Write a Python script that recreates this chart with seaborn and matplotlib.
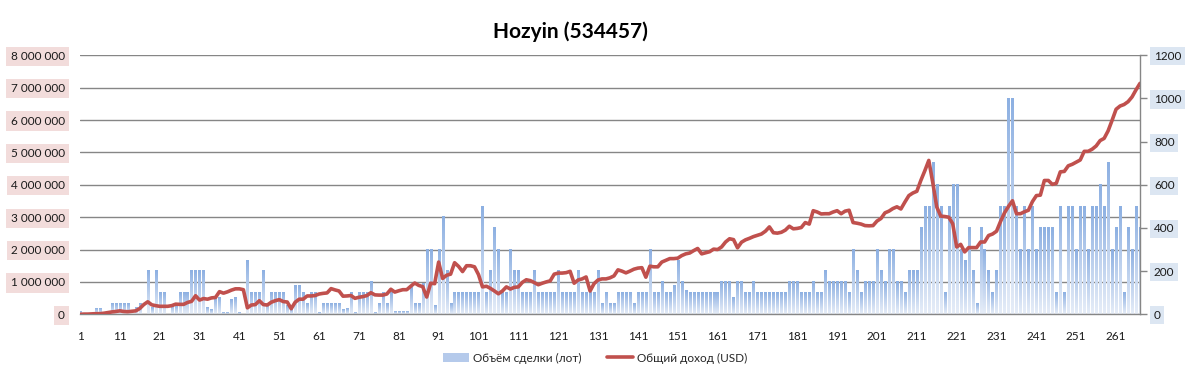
import numpy as np
import pandas as pd
import matplotlib
matplotlib.use("Agg")
import matplotlib.pyplot as plt
import seaborn as sns
from matplotlib.colors import LinearSegmentedColormap
from matplotlib.patches import Patch
from matplotlib.lines import Line2D

# ---------------- data ----------------
title = "Hozyin (534457)"
bar_label = "Объём сделки (лот)"
line_label = "Общий доход (USD)"

# trade volume, millions (left axis)
volume_mln = [
    0.067, 0, 0, 0, 0.167, 0.167, 0, 0, 0.333, 0.333,
    0.333, 0.333, 0.333, 0, 0.2, 0.333, 0, 1.333, 0.2, 1.333,
    0.667, 0.667, 0, 0.267, 0.267, 0.667, 0.667, 0.667, 1.333, 1.333,
    1.333, 1.333, 0.2, 0.133, 0.5, 0.5, 0.05, 0.05, 0.433, 0.5,
    0.05, 0, 1.667, 0.667, 0.667, 0.667, 1.333, 0.333, 0.667, 0.667,
    0.667, 0.667, 0.25, 0.133, 0.867, 0.867, 0.667, 0.333, 0.667, 0.667,
    0.05, 0.333, 0.333, 0.333, 0.333, 0.333, 0.133, 0.167, 0.667, 0.05,
    0.667, 0.667, 0.667, 1.0, 0.05, 0.333, 0.667, 0.333, 0.667, 0.067,
    0.067, 0.067, 0.067, 0.833, 0.333, 0.333, 0.933, 2.0, 2.0, 0.267,
    2.0, 3.0, 1.333, 0.333, 0.667, 0.667, 0.667, 0.667, 0.667, 0.667,
    0.667, 3.333, 0.667, 1.333, 2.667, 2.0, 0.667, 0.667, 2.0, 1.333,
    1.333, 0.667, 0.667, 0.667, 1.333, 0.667, 0.667, 0.667, 0.667, 0.667,
    1.333, 0.667, 0.667, 0.667, 0.667, 1.333, 0.667, 0.667, 0.667, 0.667,
    1.333, 0.333, 0.667, 0.333, 0.333, 0.667, 0.667, 0.667, 0.667, 0.333,
    0.667, 0.667, 0.667, 2.0, 0.667, 0.667, 1.0, 0.667, 0.667, 0.867,
    1.667, 1.0, 0.733, 0.667, 0.667, 0.667, 0.667, 0.667, 0.667, 0.667,
    0.667, 1.0, 1.0, 1.0, 0.5, 1.0, 1.0, 0.667, 0.667, 1.0,
    0.667, 0.667, 0.667, 0.667, 0.667, 0.667, 0.667, 0.667, 1.0, 1.0,
    1.0, 0.667, 0.667, 0.667, 1.0, 0.667, 0.667, 1.333, 1.0, 1.0,
    1.0, 1.0, 1.0, 0.667, 2.0, 1.333, 0.667, 1.0, 1.0, 1.0,
    2.0, 1.333, 1.0, 2.0, 2.0, 1.0, 1.0, 0.667, 1.333, 1.333,
    1.333, 2.667, 3.333, 3.333, 4.667, 4.0, 3.333, 0.667, 3.333, 4.0,
    4.0, 2.0, 1.667, 2.667, 1.333, 0.333, 2.667, 2.0, 1.333, 0.667,
    1.333, 3.333, 3.333, 6.667, 6.667, 3.333, 2.0, 3.333, 2.0, 3.333,
    2.0, 2.667, 2.667, 2.667, 2.667, 0.667, 3.333, 0.667, 3.333, 3.333,
    2.0, 3.333, 3.333, 2.0, 3.333, 3.333, 4.0, 3.333, 4.667, 2.0,
    2.667, 3.333, 0.667, 2.667, 2.0, 3.333, 2.667,
]

# cumulative income, USD (right axis)
income_usd = [
    0, 1, 1, 2, 3, 3, 5, 8, 11, 13,
    16, 13, 12, 14, 16, 27, 45, 58, 44, 40,
    37, 37, 37, 40, 47, 46, 46, 55, 60, 86,
    66, 73, 70, 76, 78, 105, 98, 104, 112, 118,
    118, 114, 30, 43, 45, 63, 45, 43, 56, 63,
    68, 59, 57, 26, 56, 70, 70, 85, 85, 87,
    94, 97, 99, 119, 113, 108, 84, 85, 87, 74,
    79, 82, 87, 100, 90, 89, 89, 94, 116, 103,
    109, 114, 114, 130, 145, 134, 128, 80, 144, 142,
    242, 166, 181, 186, 239, 222, 198, 225, 225, 220,
    184, 127, 130, 120, 108, 95, 108, 127, 117, 125,
    127, 148, 160, 156, 147, 137, 144, 150, 155, 186,
    191, 191, 193, 199, 144, 159, 164, 173, 108, 142,
    159, 164, 164, 169, 178, 206, 200, 192, 200, 209,
    214, 216, 172, 223, 220, 220, 242, 250, 258, 258,
    260, 272, 280, 284, 295, 305, 280, 285, 290, 302,
    300, 312, 335, 350, 346, 308, 334, 345, 352, 360,
    366, 372, 385, 405, 378, 376, 380, 390, 408, 396,
    398, 402, 425, 418, 480, 474, 465, 466, 466, 474,
    480, 466, 478, 482, 425, 422, 418, 411, 410, 411,
    432, 444, 470, 478, 490, 498, 488, 520, 550, 562,
    570, 620, 665, 713, 610, 497, 455, 453, 450, 420,
    312, 324, 289, 309, 309, 309, 335, 335, 365, 372,
    385, 430, 470, 500, 526, 466, 466, 475, 482, 522,
    550, 552, 620, 620, 602, 607, 660, 662, 688, 695,
    705, 715, 755, 755, 765, 780, 805, 815, 850, 899,
    950, 965, 972, 985, 1007, 1040, 1070,
]

trades = list(range(1, len(volume_mln) + 1))
left_ticks = [0, 1000000, 2000000, 3000000, 4000000, 5000000, 6000000, 7000000, 8000000]
right_ticks = [0, 200, 400, 600, 800, 1000, 1200]
x_ticks = list(range(1, len(trades) + 1, 10))

df = pd.DataFrame({
    "trade": trades,
    "volume": np.array(volume_mln) * 1e6,
    "income": income_usd,
})

# ---------------- style ----------------
sns.set_theme(style="white")
plt.rcParams["font.family"] = ["Lato", "DejaVu Sans"]
GRID = "#868686"
RED = "#C0504D"

W, H = 1189, 380
fig = plt.figure(figsize=(W / 100, H / 100), dpi=100)
fig.patch.set_facecolor("white")
ax = fig.add_axes([80 / W, 1 - 314.3 / H, 1060 / W, 259 / H])

sns.barplot(data=df, x="trade", y="volume", native_scale=True, width=0.55,
            color="#A9C2E8", ax=ax, zorder=2, errorbar=None)

# vertical gradient inside every bar
cmap = LinearSegmentedColormap.from_list("bargrad", ["#E6EDF8", "#8DB0E2"])
grad = np.linspace(0, 1, 64).reshape(-1, 1)
for p in list(ax.patches):
    h = p.get_height()
    if h <= 0:
        p.set_visible(False)
        continue
    x0, w = p.get_x(), p.get_width()
    ax.imshow(grad, extent=(x0, x0 + w, 0, h), origin="lower", aspect="auto",
              cmap=cmap, zorder=2, interpolation="bilinear")
    p.set_visible(False)

ax.set_xlim(trades[0], trades[-1])
ax.set_ylim(0, 8000000)
ax.set_yticks(left_ticks)
ylabels = ax.set_yticklabels([f"{v:,}".replace(",", " ") for v in left_ticks])
for t in ylabels:
    t.set_bbox(dict(boxstyle="square,pad=0.35", fc="#F2DCDB", ec="none"))
ax.set_xticks(x_ticks)
ax.set_xticklabels([str(v) for v in x_ticks])
ax.tick_params(axis="y", length=0, pad=11, labelsize=8.5, labelcolor="#1a1a1a")
ax.tick_params(axis="x", length=0, pad=12, labelsize=8.5, labelcolor="#1a1a1a")
ax.grid(axis="y", color=GRID, linewidth=1.0)
ax.grid(axis="x", visible=False)
ax.set_axisbelow(True)
for s in ["left", "top", "right"]:
    ax.spines[s].set_visible(False)
ax.spines["bottom"].set_color(GRID)
ax.spines["bottom"].set_linewidth(1.0)
ax.set_xlabel("")
ax.set_ylabel("")

ax2 = ax.twinx()
sns.lineplot(data=df, x="trade", y="income", ax=ax2, color=RED, linewidth=2.6,
             solid_joinstyle="round", solid_capstyle="round")
ax2.set_xlim(trades[0], trades[-1])
ax2.set_ylim(0, 1200)
ax2.set_yticks(right_ticks)
rlabels = ax2.set_yticklabels([str(v) for v in right_ticks])
for t in rlabels:
    t.set_bbox(dict(boxstyle="square,pad=0.3", fc="#DCE6F2", ec="none"))
ax2.tick_params(axis="y", length=5, width=1, color=GRID, direction="out",
                pad=5, labelsize=8.5, labelcolor="#1a1a1a")
ax2.grid(False)
for s in ["left", "top", "bottom"]:
    ax2.spines[s].set_visible(False)
ax2.spines["right"].set_color(GRID)
ax2.spines["right"].set_linewidth(1.0)
ax2.set_ylabel("")
ax2.set_xlabel("")

fig.text(570 / W, 1 - 32 / H, title, ha="center", va="center",
         fontsize=15, fontweight="bold", color="black")

handles = [Patch(facecolor="#B5CAEB", edgecolor="none"),
           Line2D([], [], color=RED, linewidth=2.6)]
fig.legend(handles, [bar_label, line_label], loc="center",
           bbox_to_anchor=(595 / W, 1 - 358 / H), ncol=2, frameon=False,
           fontsize=8.5, handlelength=2.2, handletextpad=0.3,
           columnspacing=2.2)

fig.savefig("out.png", dpi=100)
